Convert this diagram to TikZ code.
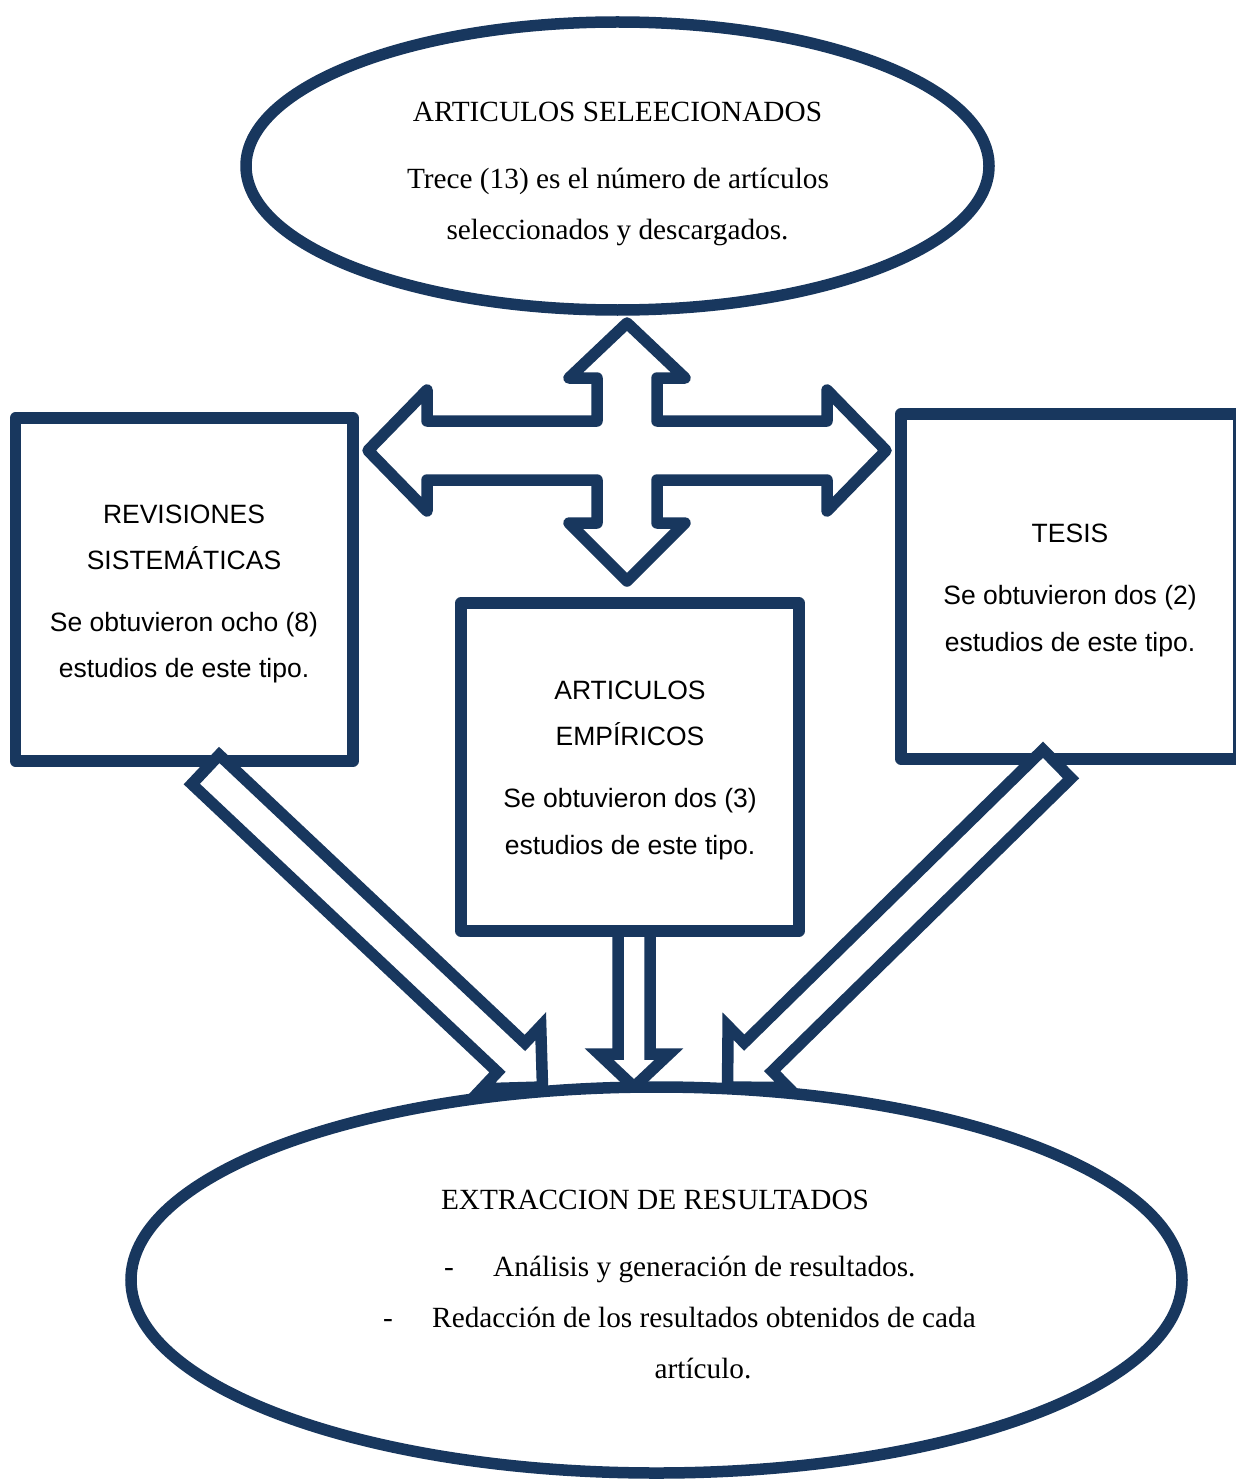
\documentclass[tikz,border=0pt]{standalone}
\usepackage{fontspec}
\usetikzlibrary{calc,shapes.geometric}
\newfontfamily\serifA{Liberation Serif}
\newfontfamily\sansA{Liberation Sans}
\definecolor{navy}{RGB}{24,55,94}
% #1 options, #2 tail, #3 tip, #4 shaft half width, #5 head half width, #6 head length
\newcommand\blockarrow[6][]{%
  \path ($(#3)!#6!(#2)$) coordinate (bh);
  \draw[#1] ($(#2)!#4!90:(#3)$) -- ($(bh)!#4!90:(#3)$) -- ($(bh)!#5!90:(#3)$) -- (#3)
    -- ($(bh)!#5!-90:(#3)$) -- ($(bh)!#4!-90:(#3)$) -- ($(#2)!#4!-90:(#3)$) -- cycle;}
\begin{document}
\begin{tikzpicture}[x=1pt,y=-1pt,
  shapeline/.style={draw=navy,line width=11.5pt,fill=white},
  boxnode/.style={shapeline,rectangle,inner sep=0pt,line join=round},
  ellnode/.style={shapeline,ellipse,inner sep=0pt},
  crossarrow/.style={shapeline,line join=round},
  diagarrow/.style={shapeline,line join=miter},
  serift/.style={font=\serifA\fontsize{29.3pt}{35pt}\selectfont,inner sep=0pt,anchor=base},
  sanst/.style={font=\sansA\fontsize{26.5pt}{32pt}\selectfont,inner sep=0pt,anchor=base},
]
\useasboundingbox (0,0) rectangle (1235,1479);
\fill[white] (0,0) rectangle (1235,1479);

% top ellipse
\node[ellnode,minimum width=743pt,minimum height=288pt] (top) at (617.5,166) {};

% side boxes
\node[boxnode,minimum width=337.5pt,minimum height=343pt] (rev) at (184.25,589.5) {};
\node[boxnode,minimum width=338pt,minimum height=345pt] (tes) at (1070,586.5) {};

% middle arrow (under middle box)
\coordinate (ma1) at (634,931);
\coordinate (ma2) at (634,1087);
\blockarrow[diagarrow]{ma1}{ma2}{16pt}{35pt}{33pt}

% middle box
\node[boxnode,minimum width=338pt,minimum height=328pt] (emp) at (630,767) {};

% four-way arrow
\draw[crossarrow] (627,323) -- (685,378) -- (657,378) -- (657,421) -- (827,421) -- (827,390)
  -- (886,450.5) -- (827,511) -- (827,480) -- (657,480) -- (657,523) -- (685,523)
  -- (627,581) -- (569,523) -- (597,523) -- (597,480) -- (427,480) -- (427,511)
  -- (368,450.5) -- (427,390) -- (427,421) -- (597,421) -- (597,378) -- (569,378) -- cycle;

% diagonal arrows
\coordinate (la1) at (205.5,769.5);
\coordinate (la2) at (542.5,1087);
\blockarrow[diagarrow]{la1}{la2}{20pt}{43pt}{43pt}
\coordinate (ra1) at (1057,764);
\coordinate (ra2) at (727.5,1087);
\blockarrow[diagarrow]{ra1}{ra2}{20pt}{43pt}{43pt}

% bottom ellipse
\node[ellnode,minimum width=1051pt,minimum height=386pt] (bot) at (656.5,1280) {};

% texts
\node[serift] (t1) at (617.5,122) {ARTICULOS SELEECIONADOS};
\node[serift] (t2) at (618,189) {Trece (13) es el número de artículos};
\node[serift] (t3) at (617.5,240) {seleccionados y descargados.};

\node[sanst] (r1) at (184,523.5) {REVISIONES};
\node[sanst] (r2) at (184,569.5) {SISTEMÁTICAS};
\node[sanst] (r3) at (184,631.5) {Se obtuvieron ocho (8)};
\node[sanst] (r4) at (184,677.5) {estudios de este tipo.};

\node[sanst] (e1) at (630,699.5) {ARTICULOS};
\node[sanst] (e2) at (630,745.5) {EMPÍRICOS};
\node[sanst] (e3) at (630,807.5) {Se obtuvieron dos (3)};
\node[sanst] (e4) at (630,854.5) {estudios de este tipo.};

\node[sanst] (s1) at (1070,542.5) {TESIS};
\node[sanst] (s2) at (1070,604.5) {Se obtuvieron dos (2)};
\node[sanst] (s3) at (1070,651.5) {estudios de este tipo.};

\node[serift] (b1) at (655,1209) {EXTRACCION DE RESULTADOS};
\node[serift] (b2d) at (449,1276) {-};
\node[serift,anchor=base west] (b2) at (493,1276) {Análisis y generación de resultados.};
\node[serift] (b3d) at (388,1327) {-};
\node[serift,anchor=base west] (b3) at (432,1327) {Redacción de los resultados obtenidos de cada};
\node[serift] (b4) at (703,1378) {artículo.};
\end{tikzpicture}
\end{document}
